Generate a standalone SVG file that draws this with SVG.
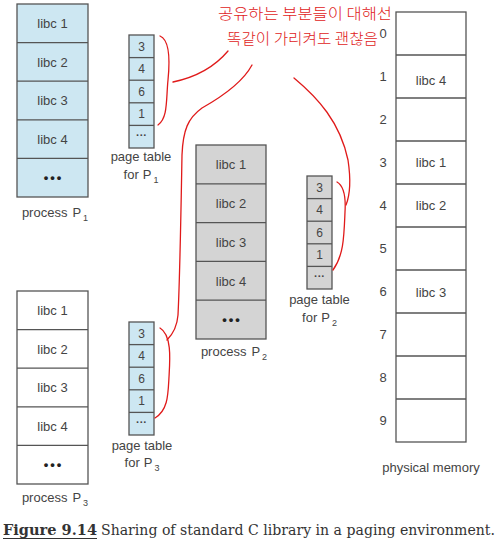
<svg xmlns="http://www.w3.org/2000/svg" width="500" height="542" viewBox="0 0 500 542">
<style>
.box{stroke:#555;stroke-width:1.3}
.blue{fill:#cde7f2}
.gray{fill:#d4d4d4}
.white{fill:#fff}
.t{font-family:"Liberation Sans",Arial,sans-serif;font-size:13px;fill:#444;text-anchor:middle}
.n{font-family:"Liberation Sans",Arial,sans-serif;font-size:12px;fill:#444;text-anchor:middle}
.dots{font-family:"Liberation Sans",Arial,sans-serif;font-size:13px;font-weight:bold;fill:#222;text-anchor:middle;letter-spacing:2px}
.sdots{font-family:"Liberation Sans",Arial,sans-serif;font-size:11px;font-weight:bold;fill:#444;text-anchor:middle}
.sub{font-size:9px}
.red{fill:none;stroke:#e01a1a;stroke-width:1.3;stroke-linecap:round}
.hw{font-family:"Noto Sans CJK KR",sans-serif;font-size:15px;fill:#e01a1a;font-weight:300}
.cap{font-family:"DejaVu Serif","Liberation Serif",serif;font-size:14px;fill:#333}
</style>
<rect width="500" height="542" fill="#fff"/>

<g id="process-p1">
<rect class="box blue" x="17" y="4" width="71" height="193"/>
<line class="box" x1="17" y1="42.6" x2="88" y2="42.6"/>
<line class="box" x1="17" y1="81.2" x2="88" y2="81.2"/>
<line class="box" x1="17" y1="119.8" x2="88" y2="119.8"/>
<line class="box" x1="17" y1="158.4" x2="88" y2="158.4"/>
<text class="t" x="52.5" y="28">libc 1</text>
<text class="t" x="52.5" y="67">libc 2</text>
<text class="t" x="52.5" y="105">libc 3</text>
<text class="t" x="52.5" y="144">libc 4</text>
<text class="dots" x="53.5" y="182">•••</text>
<text class="t" x="55" y="217">process<tspan dx="5">P</tspan><tspan class="sub" dx="2" dy="4">1</tspan></text>
</g>

<g id="pagetable-p1">
<rect class="box blue" x="129" y="35" width="25" height="113"/>
<line class="box" x1="129" y1="57.6" x2="154" y2="57.6"/>
<line class="box" x1="129" y1="80.2" x2="154" y2="80.2"/>
<line class="box" x1="129" y1="102.8" x2="154" y2="102.8"/>
<line class="box" x1="129" y1="125.4" x2="154" y2="125.4"/>
<text class="n" x="141.5" y="50.5">3</text>
<text class="n" x="141.5" y="73">4</text>
<text class="n" x="141.5" y="95.5">6</text>
<text class="n" x="141.5" y="118">1</text>
<text class="sdots" x="141.5" y="139">···</text>
<text class="t" x="141" y="161">page table</text>
<text class="t" x="141" y="179">for<tspan dx="4">P</tspan><tspan class="sub" dx="2" dy="4">1</tspan></text>
</g>

<g id="process-p2">
<rect class="box gray" x="196" y="145" width="70" height="194"/>
<line class="box" x1="196" y1="183.8" x2="266" y2="183.8"/>
<line class="box" x1="196" y1="222.6" x2="266" y2="222.6"/>
<line class="box" x1="196" y1="261.4" x2="266" y2="261.4"/>
<line class="box" x1="196" y1="300.2" x2="266" y2="300.2"/>
<text class="t" x="231" y="169">libc 1</text>
<text class="t" x="231" y="208">libc 2</text>
<text class="t" x="231" y="247">libc 3</text>
<text class="t" x="231" y="286">libc 4</text>
<text class="dots" x="232" y="324">•••</text>
<text class="t" x="234" y="356">process<tspan dx="5">P</tspan><tspan class="sub" dx="2" dy="4">2</tspan></text>
</g>

<g id="pagetable-p2">
<rect class="box gray" x="307" y="176" width="25" height="113"/>
<line class="box" x1="307" y1="198.6" x2="332" y2="198.6"/>
<line class="box" x1="307" y1="221.2" x2="332" y2="221.2"/>
<line class="box" x1="307" y1="243.8" x2="332" y2="243.8"/>
<line class="box" x1="307" y1="266.4" x2="332" y2="266.4"/>
<text class="n" x="319.5" y="191.5">3</text>
<text class="n" x="319.5" y="214">4</text>
<text class="n" x="319.5" y="236.5">6</text>
<text class="n" x="319.5" y="259">1</text>
<text class="sdots" x="319.5" y="280">···</text>
<text class="t" x="319.5" y="304">page table</text>
<text class="t" x="319.5" y="322">for<tspan dx="4">P</tspan><tspan class="sub" dx="2" dy="4">2</tspan></text>
</g>

<g id="process-p3">
<rect class="box white" x="17" y="291" width="71" height="193"/>
<line class="box" x1="17" y1="329.6" x2="88" y2="329.6"/>
<line class="box" x1="17" y1="368.2" x2="88" y2="368.2"/>
<line class="box" x1="17" y1="406.8" x2="88" y2="406.8"/>
<line class="box" x1="17" y1="445.4" x2="88" y2="445.4"/>
<text class="t" x="52.5" y="315">libc 1</text>
<text class="t" x="52.5" y="354">libc 2</text>
<text class="t" x="52.5" y="392">libc 3</text>
<text class="t" x="52.5" y="431">libc 4</text>
<text class="dots" x="53.5" y="469">•••</text>
<text class="t" x="55" y="502">process<tspan dx="5">P</tspan><tspan class="sub" dx="2" dy="4">3</tspan></text>
</g>

<g id="pagetable-p3">
<rect class="box blue" x="129" y="322" width="25" height="113"/>
<line class="box" x1="129" y1="344.6" x2="154" y2="344.6"/>
<line class="box" x1="129" y1="367.2" x2="154" y2="367.2"/>
<line class="box" x1="129" y1="389.8" x2="154" y2="389.8"/>
<line class="box" x1="129" y1="412.4" x2="154" y2="412.4"/>
<text class="n" x="141.5" y="337.5">3</text>
<text class="n" x="141.5" y="360">4</text>
<text class="n" x="141.5" y="382.5">6</text>
<text class="n" x="141.5" y="405">1</text>
<text class="sdots" x="141.5" y="426">···</text>
<text class="t" x="142" y="450">page table</text>
<text class="t" x="142" y="467">for<tspan dx="4">P</tspan><tspan class="sub" dx="2" dy="4">3</tspan></text>
</g>

<g id="physical-memory">
<rect class="box white" x="396" y="12" width="70" height="430"/>
<line class="box" x1="396" y1="55" x2="466" y2="55"/>
<line class="box" x1="396" y1="98" x2="466" y2="98"/>
<line class="box" x1="396" y1="141" x2="466" y2="141"/>
<line class="box" x1="396" y1="184" x2="466" y2="184"/>
<line class="box" x1="396" y1="227" x2="466" y2="227"/>
<line class="box" x1="396" y1="270" x2="466" y2="270"/>
<line class="box" x1="396" y1="313" x2="466" y2="313"/>
<line class="box" x1="396" y1="356" x2="466" y2="356"/>
<line class="box" x1="396" y1="399" x2="466" y2="399"/>
<text class="t" x="383" y="38">0</text>
<text class="t" x="383" y="81">1</text>
<text class="t" x="383" y="124">2</text>
<text class="t" x="383" y="167">3</text>
<text class="t" x="383" y="210">4</text>
<text class="t" x="383" y="253">5</text>
<text class="t" x="383" y="296">6</text>
<text class="t" x="383" y="339">7</text>
<text class="t" x="383" y="382">8</text>
<text class="t" x="383" y="425">9</text>
<text class="t" x="431" y="85">libc 4</text>
<text class="t" x="431" y="167">libc 1</text>
<text class="t" x="431" y="210">libc 2</text>
<text class="t" x="431" y="297">libc 3</text>
<text class="t" x="431" y="472">physical memory</text>
</g>

<g id="annotation">
<text class="hw" x="218" y="19" textLength="174" lengthAdjust="spacingAndGlyphs">공유하는 부분들이 대해선</text>
<text class="hw" x="227" y="44" textLength="151" lengthAdjust="spacingAndGlyphs">똑같이 가리켜도 괜찮음</text>
</g>

<g id="connectors">
<path class="red" d="M160,36 C170,40 170,60 168,80 C166,100 168,118 158,125"/>
<path class="red" d="M173,82 C192,78 212,70 228,51"/>
<path class="red" d="M252,65 C244,80 225,95 202,108 C188,118 183,130 182,155 C181,210 180,275 178,315 C177,328 172,335 167,340"/>
<path class="red" d="M160,328 C172,335 170,360 169,377 C168,395 168,410 155,418"/>
<path class="red" d="M294,78 C318,98 340,122 348,160 C351,180 350,195 346,205"/>
<path class="red" d="M337,182 C344,186 346,196 345,212 C344,235 344,255 333,270"/>
</g>

<g id="caption">
<text class="cap" x="3" y="535" font-weight="bold" textLength="94" lengthAdjust="spacingAndGlyphs">Figure 9.14</text>
<line x1="3" y1="538.5" x2="97" y2="538.5" stroke="#333" stroke-width="1.2"/>
<text class="cap" x="101" y="535" textLength="394" lengthAdjust="spacingAndGlyphs">Sharing of standard C library in a paging environment.</text>
</g>
</svg>
